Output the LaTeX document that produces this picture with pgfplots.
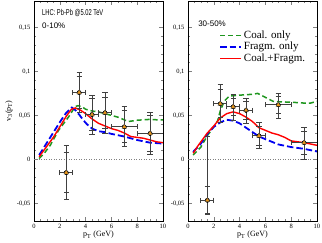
\documentclass[border=0pt]{standalone}
\usepackage{fontspec}
\setmainfont{Liberation Serif}
\newfontfamily\arial{Liberation Sans}
\usepackage{graphicx}
\usepackage{pgfplots}
\pgfplotsset{compat=1.18}
\definecolor{cgreen}{RGB}{30,150,30}
\definecolor{cblue}{RGB}{0,0,240}
\definecolor{cred}{RGB}{255,0,0}
\definecolor{corange}{RGB}{235,150,20}

\pgfplotstableread{
x y ex ep em ip im
2.5 -0.015 0.5 0.031 0.031 0.023 0.023
3.5 0.076 0.5 0.023 0.023 0.018 0.018
4.5 0.051 0.5 0.022 0.023 0.018 0.018
5.5 0.053 0.5 0.023 0.023 0.018 0.018
7.0 0.037 1.0 0.023 0.022 0.019 0.018
9.0 0.0295 1.0 0.024 0.024 0.020 0.020
}\dataA
\pgfplotstableread{
x y ex ep em ip im
1.5 -0.0465 0.5 0.0725 0.0145 0.0155 0.0155
2.5 0.0632 0.5 0.0215 0.0215 0.016 0.016
3.5 0.0598 0.5 0.0145 0.0150 0.009 0.010
4.5 0.0557 0.5 0.0140 0.0145 0.010 0.010
5.5 0.0268 0.5 0.0150 0.0145 0.0105 0.0105
7.0 0.0620 1.0 0.0135 0.0150 0.010 0.010
9.0 0.0190 1.0 0.0175 0.0185 0.013 0.013
}\dataB

\pgfplotsset{
 panel/.style={
  scale only axis, width=129pt, height=220pt,
  xmin=0, xmax=10, ymin=-0.07, ymax=0.18,
  xtick={0,2,...,10}, minor x tick num=3,
  ytick={-0.05,0,0.05,0.1,0.15},
  yticklabels={{-0,05},{0},{0,05},{0,1},{0,15}},
  minor y tick num=4,
  tick align=inside, major tick length=4pt, minor tick length=2pt,
  xtick pos=both, ytick pos=both,
  ticklabel style={font=\fontsize{6.5}{7}\selectfont},
  /pgf/number format/assume math mode=true,
  axis line style={line width=0.6pt},
  xlabel={p\textsubscript{T} (GeV)},
  xlabel style={at={(axis description cs:0.5,-0.064)}, anchor=center, font=\fontsize{8}{9}\selectfont},
 },
 greenc/.style={cgreen, line width=1.5pt, dash pattern=on 5pt off 3pt},
 bluec/.style={cblue, line width=1.8pt, dash pattern=on 6.5pt off 3pt},
 redc/.style={cred, line width=1.4pt},
 outerr/.style={only marks, mark=none,
   error bars/.cd, y dir=both, y explicit, x dir=both, x explicit,
   error bar style={line width=0.8pt, black!75},
   error mark options={rotate=90, mark size=2.6pt, line width=0.8pt, black!75}},
 innerr/.style={only marks, mark=none,
   error bars/.cd, y dir=both, y explicit,
   error bar style={line width=0.8pt, black!75},
   error mark options={rotate=90, mark size=2.6pt, line width=0.8pt, black!75}},
 pts/.style={only marks, mark=triangle*, mark size=2.7pt,
   mark options={fill=corange, draw=black!70, line width=0.3pt}},
}

\begin{document}
\begin{tikzpicture}
\path[use as bounding box] (-34pt,-22pt) rectangle (288pt,221pt);
\begin{axis}[panel, at={(0pt,0pt)}, anchor=south west]
\addplot[gray, dotted, line width=0.5pt] coordinates {(0,0)(10,0)};
\addplot[greenc] coordinates {(0.4,0.001)(0.8,0.007)(1.26,0.016)(1.9,0.033)(2.67,0.048)(3.19,0.060)(3.4,0.061)(3.7,0.060)(4,0.057)(4.5,0.055)(5,0.054)(5.5,0.052)(6,0.050)(6.5,0.048)(7,0.045)(7.3,0.043)(8,0.0445)(8.5,0.045)(9,0.0455)(9.5,0.045)(10,0.045)};
\addplot[bluec] coordinates {(0.4,0.005)(0.62,0.010)(1.26,0.025)(2.08,0.044)(2.5,0.053)(2.93,0.059)(3.2,0.056)(3.5,0.051)(3.8,0.045)(4.1,0.040)(4.5,0.035)(5,0.032)(5.5,0.031)(6,0.029)(7,0.026)(8,0.022)(9,0.019)(10,0.018)};
\addplot[redc] coordinates {(0.4,0.003)(1,0.015)(1.5,0.025)(2,0.037)(2.5,0.049)(2.9,0.057)(3.2,0.0585)(3.6,0.056)(4,0.052)(4.5,0.046)(5,0.041)(5.5,0.038)(6,0.035)(6.5,0.033)(7,0.030)(7.5,0.026)(8,0.025)(8.5,0.024)(9,0.022)(9.5,0.020)(10,0.019)};
\addplot[outerr] table[x=x, y=y, x error=ex, y error plus=ep, y error minus=em] {\dataA};
\addplot[innerr] table[x=x, y=y, y error plus=ip, y error minus=im] {\dataA};
\addplot[pts] table[x=x, y=y] {\dataA};
\node[anchor=west, inner sep=0pt, font=\arial\fontsize{8.5}{9}\selectfont] at (rel axis cs:0.062,0.946) {\scalebox{0.68}[1]{LHC: Pb-Pb @5.02 TeV}};
\node[anchor=west, inner sep=0pt, font=\arial\fontsize{8}{9}\selectfont] at (rel axis cs:0.062,0.886) {0-10\%};
\end{axis}
\node[rotate=90, anchor=center, inner sep=0pt, font=\fontsize{8}{9}\selectfont] at (-25pt,110pt) {v\textsubscript{3}(p\textsubscript{T})};
\begin{axis}[panel, at={(154pt,0pt)}, anchor=south west,
  legend style={draw=none, fill=none, at={(rel axis cs:0.24,0.875)}, anchor=north west,
    font=\fontsize{11}{12}\selectfont, row sep=-1.5pt, inner sep=0pt,
    legend cell align=left},
  legend image code/.code={\draw[#1] (0pt,0pt) -- (21pt,0pt);}]
\addplot[forget plot, gray, dotted, line width=0.5pt] coordinates {(0,0)(10,0)};
\addplot[greenc] coordinates {(0.4,0.005)(1,0.014)(1.5,0.027)(2,0.037)(2.3,0.044)(2.5,0.055)(2.8,0.066)(3.2,0.072)(4,0.073)(5,0.074)(5.4,0.075)(5.8,0.072)(6.2,0.069)(6.6,0.066)(7,0.0655)(8,0.065)(9,0.064)(9.5,0.064)(10,0.066)};
\addlegendentry{Coal. only}
\addplot[bluec] coordinates {(0.4,0.0085)(1,0.018)(1.5,0.029)(2,0.037)(2.5,0.042)(3,0.045)(3.5,0.044)(4,0.041)(4.5,0.036)(5,0.031)(5.5,0.026)(6,0.023)(6.5,0.020)(7,0.017)(8,0.014)(9,0.012)(10,0.009)};
\addlegendentry{Fragm. only}
\addplot[redc] coordinates {(0.4,0.007)(0.8,0.016)(1.5,0.030)(2,0.038)(2.5,0.047)(3,0.052)(3.5,0.054)(4,0.052)(4.5,0.048)(5,0.043)(5.5,0.036)(6,0.033)(6.5,0.030)(7,0.028)(7.5,0.025)(8,0.021)(9,0.019)(10,0.016)};
\addlegendentry{Coal.+Fragm.}
\addplot[forget plot, outerr] table[x=x, y=y, x error=ex, y error plus=ep, y error minus=em] {\dataB};
\addplot[forget plot, innerr] table[x=x, y=y, y error plus=ip, y error minus=im] {\dataB};
\addplot[forget plot, pts] table[x=x, y=y] {\dataB};
\node[anchor=west, inner sep=0pt, font=\arial\fontsize{8}{9}\selectfont] at (rel axis cs:0.078,0.896) {30-50\%};
\end{axis}
\end{tikzpicture}
\end{document}
